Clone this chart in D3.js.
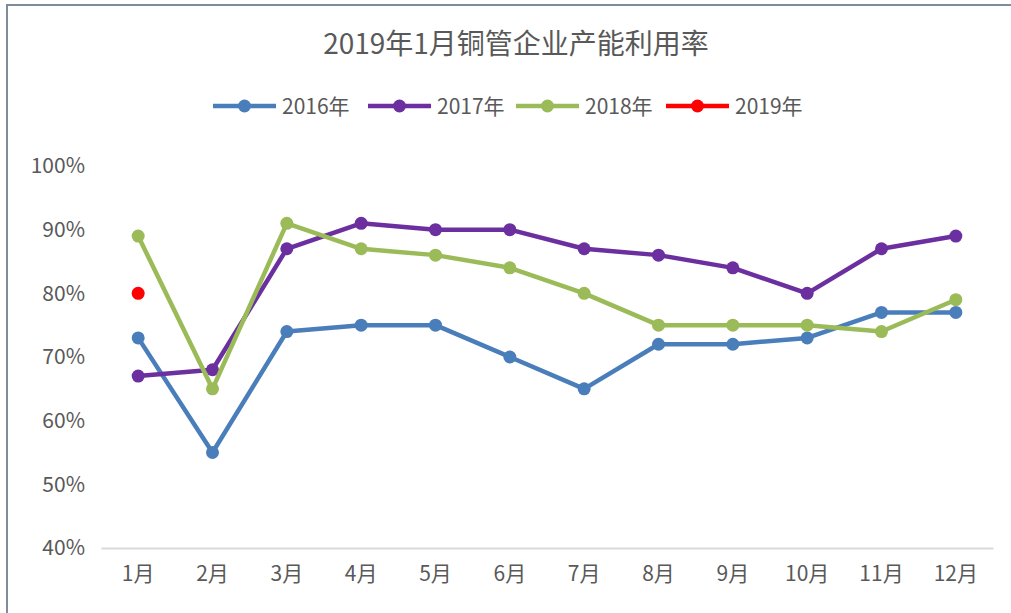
<!DOCTYPE html>
<html>
<head>
<meta charset="utf-8">
<script src="https://cdn.jsdelivr.net/npm/d3@7"></script>
<style>
  html, body { margin: 0; padding: 0; background: #fff; }
  svg { display: block; font-family: "Noto Sans CJK SC", "Noto Sans", sans-serif; }
</style>
</head>
<body>
<div id="chart"></div>
<script>
// chart values
const months = ["1月", "2月", "3月", "4月", "5月", "6月", "7月", "8月", "9月", "10月", "11月", "12月"];
const y2016 = [73, 55, 74, 75, 75, 70, 65, 72, 72, 73, 77, 77];
const y2017 = [67, 68, 87, 91, 90, 90, 87, 86, 84, 80, 87, 89];
const y2018 = [89, 65, 91, 87, 86, 84, 80, 75, 75, 75, 74, 79];
const y2019 = [80];
const yTicks = [40, 50, 60, 70, 80, 90, 100];
const seriesNames = ["2016年", "2017年", "2018年", "2019年"];

const series = [
  { name: seriesNames[0], values: y2016, color: "#4a7ebb" },
  { name: seriesNames[1], values: y2017, color: "#6b2fa0" },
  { name: seriesNames[2], values: y2018, color: "#9bbb59" },
  { name: seriesNames[3], values: y2019, color: "#ff0000" }
];

const width = 1011, height = 613;
const margin = { top: 166, right: 18, bottom: 65, left: 101 };
const cjk = "\"Noto Sans CJK SC\", sans-serif";

const svg = d3.select("#chart").append("svg")
  .attr("width", width)
  .attr("height", height);

// frame edges (top + left only are visible)
svg.append("line").attr("x1", 6).attr("x2", width).attr("y1", 5).attr("y2", 5)
  .attr("stroke", "#7f8c99").attr("stroke-width", 2);
svg.append("line").attr("x1", 7).attr("x2", 7).attr("y1", 5).attr("y2", height)
  .attr("stroke", "#7f8c99").attr("stroke-width", 2);

// title
svg.append("text")
  .attr("x", 516).attr("y", 54)
  .attr("text-anchor", "middle")
  .attr("fill", "#595959")
  .attr("font-size", 28)
  .text("2019年1月铜管企业产能利用率");

const x = d3.scaleBand()
  .domain(months)
  .range([margin.left, width - margin.right]);

const y = d3.scaleLinear()
  .domain([40, 100])
  .range([height - margin.bottom, margin.top]);

// y axis labels
const yAxis = d3.axisLeft(y)
  .tickValues(yTicks)
  .tickFormat(d => d + "%")
  .tickSize(0)
  .tickPadding(16);
const gy = svg.append("g")
  .attr("transform", `translate(${margin.left},0)`)
  .call(yAxis);
gy.select(".domain").remove();
gy.selectAll("text").attr("fill", "#595959").attr("font-size", 21)
  .attr("font-family", cjk);

// x axis
const xAxis = d3.axisBottom(x).tickSize(0).tickPadding(18);
const gx = svg.append("g")
  .attr("transform", `translate(0,${y(40)})`)
  .call(xAxis);
gx.select(".domain").attr("stroke", "#d9d9d9").attr("stroke-width", 2);
gx.selectAll("text").attr("fill", "#595959").attr("font-size", 21)
  .attr("font-family", cjk);

const line = d3.line()
  .x((d, i) => x(months[i]) + x.bandwidth() / 2)
  .y(d => y(d));

series.forEach(s => {
  const g = svg.append("g");
  if (s.values.length > 1) {
    g.append("path")
      .datum(s.values)
      .attr("fill", "none")
      .attr("stroke", s.color)
      .attr("stroke-width", 4.5)
      .attr("stroke-linejoin", "round")
      .attr("d", line);
  }
  g.selectAll("circle")
    .data(s.values)
    .join("circle")
    .attr("cx", (d, i) => x(months[i]) + x.bandwidth() / 2)
    .attr("cy", d => y(d))
    .attr("r", 6.5)
    .attr("fill", s.color);
});

// legend
const legendX = [213, 368, 516, 666];
const legend = svg.append("g").attr("transform", "translate(0,106)");
series.forEach((s, i) => {
  const lg = legend.append("g").attr("transform", `translate(${legendX[i]},0)`);
  lg.append("line").attr("x1", 0).attr("x2", 63).attr("y1", 0).attr("y2", 0)
    .attr("stroke", s.color).attr("stroke-width", 4.5);
  lg.append("circle").attr("cx", 31.5).attr("cy", 0).attr("r", 6.5).attr("fill", s.color);
  lg.append("text").attr("x", 69).attr("y", 7.5)
    .attr("fill", "#595959").attr("font-size", 21)
    .text(s.name);
});
</script>
</body>
</html>
